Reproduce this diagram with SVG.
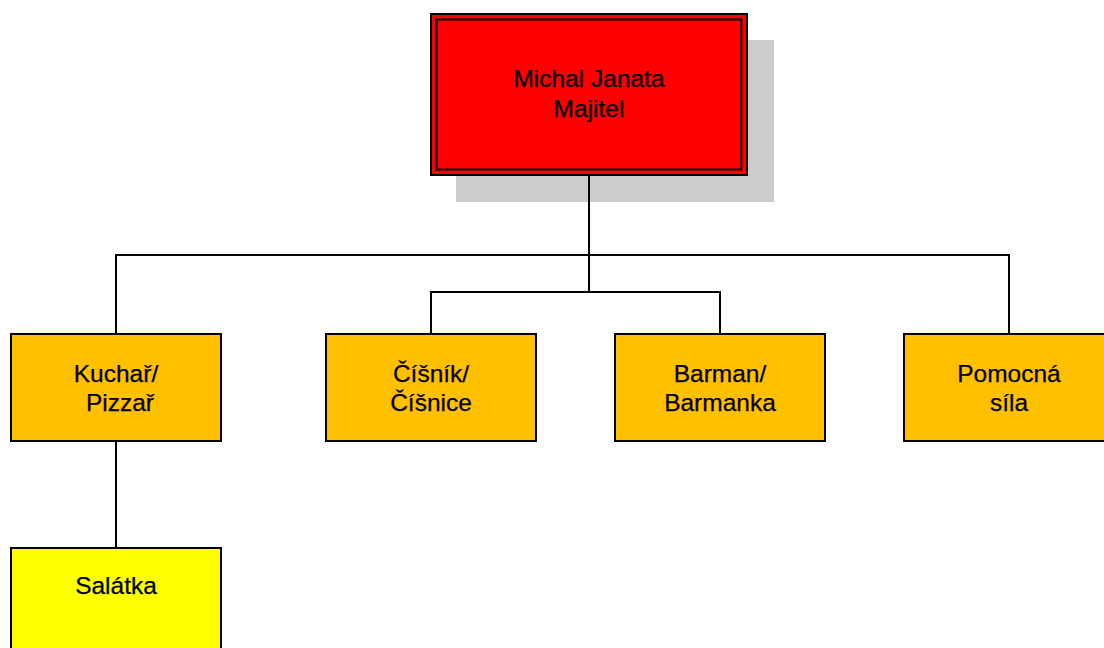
<svg xmlns="http://www.w3.org/2000/svg" width="1104" height="648" viewBox="0 0 1104 648">
<style>
.box{stroke:#000;stroke-width:2}
.org{fill:#FFC000}
.t{font-family:"Liberation Sans",Arial,sans-serif;font-size:24.5px;fill:#000;stroke:#000;stroke-width:0.25;text-anchor:middle}
.c{fill:none;stroke:#000;stroke-width:2}
</style>
<rect width="1104" height="648" fill="#fff"/>
<g id="owner-shadow">
<rect x="456" y="40" width="318" height="162" fill="#CCCCCC"/>
</g>
<g id="connectors">
<path class="c" d="M589 175V292M116 334V255H1009V334M431 334V292H720V334M116 441V548"/>
</g>
<g id="owner">
<rect class="box" x="431" y="14" width="316" height="161" fill="#FF0000"/>
<rect x="436.5" y="19.5" width="305" height="150" fill="none" stroke="#000" stroke-width="2"/>
<text class="t" x="589" y="87">Michal Janata</text>
<text class="t" x="589" y="117">Majitel</text>
</g>
<g id="kuchar">
<rect class="box org" x="11" y="334" width="210" height="107"/>
<text class="t" x="116" y="382">Kuchař/</text>
<text class="t" x="120" y="411">Pizzař</text>
</g>
<g id="cisnik">
<rect class="box org" x="326" y="334" width="210" height="107"/>
<text class="t" x="431" y="382">Číšník/</text>
<text class="t" x="431" y="411">Číšnice</text>
</g>
<g id="barman">
<rect class="box org" x="615" y="334" width="210" height="107"/>
<text class="t" x="720" y="382">Barman/</text>
<text class="t" x="720" y="411">Barmanka</text>
</g>
<g id="pomocna">
<rect class="box org" x="904" y="334" width="210" height="107"/>
<text class="t" x="1009" y="382">Pomocná</text>
<text class="t" x="1009" y="411">síla</text>
</g>
<g id="salatka">
<rect class="box" x="11" y="548" width="210" height="107" fill="#FFFF00"/>
<text class="t" x="116" y="594">Salátka</text>
</g>
</svg>
